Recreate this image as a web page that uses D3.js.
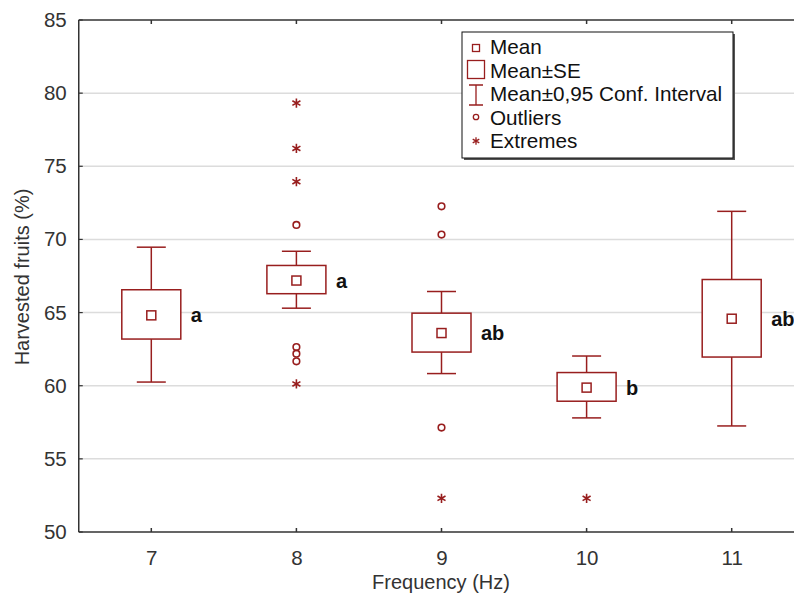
<!DOCTYPE html>
<html><head><meta charset="utf-8">
<script src="https://cdn.jsdelivr.net/npm/d3@7"></script>
<style>body{margin:0;background:#fff;} svg{display:block;font-family:"Liberation Sans",Arial,sans-serif;}</style>
</head><body>
<svg id="c" width="794" height="599"></svg>
<script>
const categories = [7, 8, 9, 10, 11];
const means   = [64.81, 67.19, 63.60, 59.87, 64.58];
const seLow   = [63.19, 66.29, 62.30, 58.94, 61.96];
const seHigh  = [66.56, 68.22, 64.96, 60.90, 67.26];
const ciLow   = [60.25, 65.30, 60.83, 57.80, 57.25];
const ciHigh  = [69.47, 69.19, 66.44, 62.03, 71.92];
const groupLetters = ["a", "a", "ab", "b", "ab"];
const outliers = [
  {f: 8, v: 70.99}, {f: 8, v: 62.64}, {f: 8, v: 62.19}, {f: 8, v: 61.67},
  {f: 9, v: 72.26}, {f: 9, v: 70.33}, {f: 9, v: 57.14}
];
const extremes = [
  {f: 8, v: 79.32}, {f: 8, v: 76.22}, {f: 8, v: 73.95}, {f: 8, v: 60.12},
  {f: 9, v: 52.30}, {f: 10, v: 52.30}
];
const yTicks = [50, 55, 60, 65, 70, 75, 80, 85];
const legendLabels = ["Mean", "Mean\u00B1SE", "Mean\u00B10,95 Conf. Interval", "Outliers", "Extremes"];

const RED = "#981e1e";
const AX = "#333";
const FS = 20;
const svg = d3.select("#c");
const pL = 78.75, pR = 804.25, pT = 20, pB = 532;
const x = d3.scaleLinear().domain([6.5, 11.5]).range([pL, pR]);
const y = d3.scaleLinear().domain([50, 85]).range([pB, pT]);

// gridlines
svg.append("g").selectAll("line").data(yTicks.filter(t => t > 50 && t < 85)).join("line")
  .attr("x1", pL).attr("x2", 794).attr("y1", d => y(d)).attr("y2", d => y(d))
  .attr("stroke", "#dcdcdc").attr("stroke-width", 1.5);

// axes
const yAxis = d3.axisLeft(y).tickValues(yTicks).tickSize(0).tickPadding(12).tickFormat(d3.format("d"));
const gy = svg.append("g").attr("transform", `translate(${pL},0)`).call(yAxis);
gy.select(".domain").remove();
gy.selectAll("text").attr("font-size", 20.5).attr("fill", "#333").attr("font-family", "'Liberation Sans',Arial,sans-serif");

const xAxis = d3.axisBottom(x).tickValues(categories).tickSize(0).tickPadding(18).tickFormat(d3.format("d"));
const gx = svg.append("g").attr("transform", `translate(0,${pB})`).call(xAxis);
gx.select(".domain").remove();
gx.selectAll("text").attr("font-size", 20.5).attr("fill", "#333").attr("font-family", "'Liberation Sans',Arial,sans-serif");

// frame
svg.append("path").attr("d", `M${pL},${pT}H${pR}M${pL},${pB}H${pR}M${pL},${pT}V${pB}`)
  .attr("stroke", AX).attr("stroke-width", 1.5).attr("fill", "none");
// inner ticks
svg.append("g").selectAll("line").data(categories).join("line")
  .attr("x1", d => x(d)).attr("x2", d => x(d)).attr("y1", pB).attr("y2", pB - 4)
  .attr("stroke", AX).attr("stroke-width", 1.5);
svg.append("g").selectAll("line").data(categories).join("line")
  .attr("x1", d => x(d)).attr("x2", d => x(d)).attr("y1", pT).attr("y2", pT + 4)
  .attr("stroke", AX).attr("stroke-width", 1.5);
svg.append("g").selectAll("line").data(yTicks).join("line")
  .attr("x1", pL).attr("x2", pL + 4).attr("y1", d => y(d)).attr("y2", d => y(d))
  .attr("stroke", AX).attr("stroke-width", 1.2);

// titles
svg.append("text").attr("x", 441).attr("y", 589).attr("text-anchor", "middle")
  .attr("font-size", FS).attr("fill", "#333").text("Frequency (Hz)");
svg.append("text").attr("transform", `translate(29,277) rotate(-90)`).attr("text-anchor", "middle")
  .attr("font-size", FS).attr("fill", "#333").text("Harvested fruits (%)");

// boxes
const boxW = 59, capW = 29, meanS = 9;
const g = svg.append("g");
categories.forEach((c, i) => {
  const cx = x(c);
  g.append("line").attr("x1", cx).attr("x2", cx).attr("y1", y(ciHigh[i])).attr("y2", y(seHigh[i]))
    .attr("stroke", RED).attr("stroke-width", 1.5);
  g.append("line").attr("x1", cx).attr("x2", cx).attr("y1", y(seLow[i])).attr("y2", y(ciLow[i]))
    .attr("stroke", RED).attr("stroke-width", 1.5);
  [ciHigh[i], ciLow[i]].forEach(v => g.append("line").attr("x1", cx - capW / 2).attr("x2", cx + capW / 2)
    .attr("y1", y(v)).attr("y2", y(v)).attr("stroke", RED).attr("stroke-width", 1.5));
  g.append("rect").attr("x", cx - boxW / 2).attr("y", y(seHigh[i])).attr("width", boxW)
    .attr("height", y(seLow[i]) - y(seHigh[i])).attr("fill", "#fff").attr("stroke", RED).attr("stroke-width", 1.5);
  g.append("rect").attr("x", cx - meanS / 2).attr("y", y(means[i]) - meanS / 2).attr("width", meanS).attr("height", meanS)
    .attr("fill", "#fff").attr("stroke", RED).attr("stroke-width", 1.5);
  g.append("text").attr("x", cx + boxW / 2 + 10).attr("y", y(means[i]) + 7).attr("font-size", FS)
    .attr("font-weight", "bold").attr("fill", "#111").text(groupLetters[i]);
});
g.selectAll("circle.out").data(outliers).join("circle").attr("class", "out")
  .attr("cx", d => x(d.f)).attr("cy", d => y(d.v)).attr("r", 3.3)
  .attr("fill", "none").attr("stroke", RED).attr("stroke-width", 1.6);
const ast = d3.symbol(d3.symbolAsterisk, 60);
g.selectAll("path.ext").data(extremes).join("path").attr("class", "ext")
  .attr("transform", d => `translate(${x(d.f)},${y(d.v)})`).attr("d", ast())
  .attr("stroke", RED).attr("stroke-width", 1.6).attr("fill", "none");

// legend
const L = svg.append("g");
const lx = 462, ly = 32, lw = 271, lh = 126;
L.append("rect").attr("x", lx + 2).attr("y", ly + 2).attr("width", lw).attr("height", lh).attr("fill", "#555");
L.append("rect").attr("x", lx).attr("y", ly).attr("width", lw).attr("height", lh).attr("fill", "#fff")
  .attr("stroke", "#111").attr("stroke-width", 1);
const base = [54, 77.5, 101, 124.5, 148];
legendLabels.forEach((t, i) => {
  L.append("text").attr("x", 490).attr("y", base[i]).attr("font-size", 20.7).attr("fill", "#111").text(t);
});
const sx = 476;
L.append("rect").attr("x", sx - 3.5).attr("y", 44.5).attr("width", 7).attr("height", 7)
  .attr("fill", "none").attr("stroke", RED).attr("stroke-width", 1.3);
L.append("rect").attr("x", 467.5).attr("y", 60.5).attr("width", 17).attr("height", 18)
  .attr("fill", "none").attr("stroke", RED).attr("stroke-width", 1.3);
L.append("path").attr("d", `M${sx},85V105M${sx - 7},85H${sx + 7}M${sx - 7},105H${sx + 7}`)
  .attr("fill", "none").attr("stroke", RED).attr("stroke-width", 1.3);
L.append("circle").attr("cx", sx).attr("cy", 117).attr("r", 2.7).attr("fill", "none").attr("stroke", RED).attr("stroke-width", 1.3);
L.append("path").attr("transform", `translate(${sx},141)`).attr("d", d3.symbol(d3.symbolAsterisk, 40)())
  .attr("fill", "none").attr("stroke", RED).attr("stroke-width", 1.3);
</script>
</body></html>
